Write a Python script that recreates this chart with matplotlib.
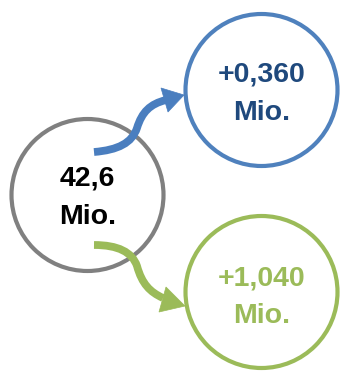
import matplotlib
matplotlib.use("Agg")
import matplotlib.pyplot as plt
from matplotlib.patches import Circle, Polygon, PathPatch
from matplotlib.path import Path

# ---- data ----
labels_top = ["42,6", "+0,360", "+1,040"]
labels_bottom = ["Mio.", "Mio.", "Mio."]
edge_colors = ["#808080", "#4F81BD", "#9BBB59"]
text_colors = ["#000000", "#1F497D", "#9BBB59"]
arrow_colors = ["#4A7EBF", "#9BBB59"]

W, H = 340, 372
fig = plt.figure(figsize=(W / 100, H / 100), dpi=100)
ax = fig.add_axes([0, 0, 1, 1])
ax.set_xlim(0, W)
ax.set_ylim(H, 0)
ax.axis("off")

centers = [(87.5, 195), (261.5, 90), (261.5, 292)]
radius = 76
baselines = [(186, 224), (82, 120), (286, 323)]

for (cx, cy), ec in zip(centers, edge_colors):
    ax.add_patch(Circle((cx, cy), radius, fill=False, ec=ec, lw=3.0, zorder=1))

# arrows (drawn over gray circle)
arrow_paths = [
    [(94, 152), (118, 150), (132, 143), (137, 128), (142, 112), (150, 104), (166, 100)],
    [(94, 245), (118, 245), (132, 252), (137, 266), (142, 284), (150, 292), (163, 298)],
]
heads = [
    [(161, 88), (184, 95), (168, 112)],
    [(166, 287), (185, 306), (159, 312)],
]
for pts, head, col in zip(arrow_paths, heads, arrow_colors):
    codes = [Path.MOVETO] + [Path.CURVE4] * 6
    ax.add_patch(PathPatch(Path(pts, codes), fill=False, ec=col, lw=5.6,
                           capstyle="butt", zorder=3))
    ax.add_patch(Polygon(head, closed=True, fc=col, ec=col, lw=0.5, zorder=3))

for (cx, cy), t1, t2, tc, (b1, b2) in zip(centers, labels_top, labels_bottom,
                                         text_colors, baselines):
    for t, b in ((t1, b1), (t2, b2)):
        ax.text(cx, b, t, ha="center", va="baseline", fontsize=20.5,
                fontweight="bold", family="Liberation Sans", color=tc, zorder=4)

fig.savefig("out.png", dpi=100)
